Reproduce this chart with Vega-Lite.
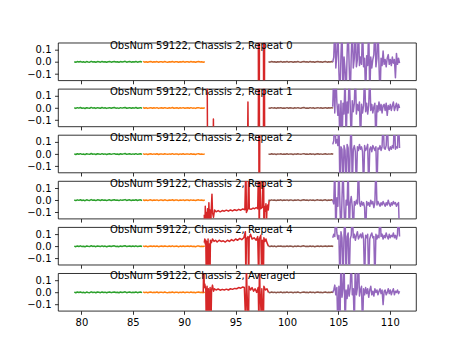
{
"$schema": "https://vega.github.io/schema/vega-lite/v6.json",
"background": "white",
"padding": {"left": 26, "top": 39.7, "right": 0, "bottom": 0},
"spacing": 1.1,
"datasets": {
"g": [{"x":79.3,"y":0.002},{"x":79.45,"y":-0.003},{"x":79.6,"y":0.003},{"x":79.75,"y":-0.001},{"x":79.9,"y":0.004},{"x":80.05,"y":-0.002},{"x":80.2,"y":0.001},{"x":80.35,"y":-0.004},{"x":80.5,"y":0.003},{"x":80.65,"y":0.0},{"x":80.8,"y":-0.002},{"x":80.95,"y":0.005},{"x":81.1,"y":-0.001},{"x":81.25,"y":0.002},{"x":81.4,"y":-0.003},{"x":81.55,"y":0.003},{"x":81.7,"y":0.001},{"x":81.85,"y":-0.002},{"x":82.0,"y":0.004},{"x":82.15,"y":-0.001},{"x":82.3,"y":0.002},{"x":82.45,"y":-0.003},{"x":82.6,"y":0.001},{"x":82.75,"y":0.003},{"x":82.9,"y":-0.002},{"x":83.05,"y":0.002},{"x":83.2,"y":0.004},{"x":83.35,"y":-0.001},{"x":83.5,"y":0.001},{"x":83.65,"y":-0.003},{"x":83.8,"y":0.003},{"x":83.95,"y":-0.001},{"x":84.1,"y":0.002},{"x":84.25,"y":0.005},{"x":84.4,"y":-0.002},{"x":84.55,"y":0.001},{"x":84.7,"y":0.003},{"x":84.85,"y":-0.002},{"x":85.0,"y":0.002},{"x":85.15,"y":-0.001},{"x":85.3,"y":0.004},{"x":85.45,"y":-0.002},{"x":85.6,"y":0.001},{"x":85.75,"y":0.003},{"x":85.9,"y":-0.002}],
"o": [{"x":86.0,"y":0.004},{"x":86.15,"y":-0.002},{"x":86.3,"y":0.002},{"x":86.45,"y":-0.003},{"x":86.6,"y":0.001},{"x":86.75,"y":0.003},{"x":86.9,"y":-0.002},{"x":87.05,"y":0.002},{"x":87.2,"y":-0.001},{"x":87.35,"y":0.003},{"x":87.5,"y":-0.003},{"x":87.65,"y":0.001},{"x":87.8,"y":0.002},{"x":87.95,"y":-0.002},{"x":88.1,"y":0.003},{"x":88.25,"y":0.0},{"x":88.4,"y":-0.002},{"x":88.55,"y":0.002},{"x":88.7,"y":-0.001},{"x":88.85,"y":0.004},{"x":89.0,"y":-0.002},{"x":89.15,"y":0.001},{"x":89.3,"y":0.002},{"x":89.45,"y":-0.003},{"x":89.6,"y":0.002},{"x":89.75,"y":-0.001},{"x":89.9,"y":0.003},{"x":90.05,"y":-0.002},{"x":90.2,"y":0.001},{"x":90.35,"y":0.002},{"x":90.5,"y":-0.002},{"x":90.65,"y":0.003},{"x":90.8,"y":-0.001},{"x":90.95,"y":0.001},{"x":91.1,"y":-0.003},{"x":91.25,"y":0.002},{"x":91.4,"y":0.003},{"x":91.55,"y":-0.001},{"x":91.7,"y":0.001},{"x":91.85,"y":-0.002},{"x":92.0,"y":0.002}],
"b": [{"x":98.2,"y":0.001},{"x":98.35,"y":-0.002},{"x":98.5,"y":0.003},{"x":98.65,"y":-0.001},{"x":98.8,"y":0.002},{"x":98.95,"y":-0.003},{"x":99.1,"y":0.002},{"x":99.25,"y":0.0},{"x":99.4,"y":0.003},{"x":99.55,"y":-0.002},{"x":99.7,"y":0.001},{"x":99.85,"y":-0.001},{"x":100.0,"y":0.003},{"x":100.15,"y":-0.002},{"x":100.3,"y":0.002},{"x":100.45,"y":0.001},{"x":100.6,"y":-0.003},{"x":100.75,"y":0.002},{"x":100.9,"y":-0.001},{"x":101.05,"y":0.003},{"x":101.2,"y":0.0},{"x":101.35,"y":-0.002},{"x":101.5,"y":0.002},{"x":101.65,"y":0.004},{"x":101.8,"y":-0.001},{"x":101.95,"y":0.001},{"x":102.1,"y":-0.002},{"x":102.25,"y":0.003},{"x":102.4,"y":-0.001},{"x":102.55,"y":0.002},{"x":102.7,"y":-0.003},{"x":102.85,"y":0.001},{"x":103.0,"y":0.003},{"x":103.15,"y":-0.001},{"x":103.3,"y":0.002},{"x":103.45,"y":-0.002},{"x":103.6,"y":0.001},{"x":103.75,"y":0.003},{"x":103.9,"y":-0.002},{"x":104.05,"y":0.002},{"x":104.2,"y":0.0},{"x":104.35,"y":0.003},{"x":104.5,"y":-0.001}],
"r0": [{"x":97.2,"y":0.5},{"x":97.23,"y":-0.5},{"x":97.3,"y":-0.5},{"x":97.33,"y":0.5},{"x":97.7,"y":0.5},{"x":97.73,"y":-0.5},{"x":97.8,"y":-0.5},{"x":97.83,"y":0.5}],
"r1": [{"x":92.22,"y":0.5},{"x":92.28,"y":-0.5},{"x":92.8,"y":-0.5},{"x":92.84,"y":-0.09},{"x":92.88,"y":-0.5},{"x":96.15,"y":-0.5},{"x":96.2,"y":0.05},{"x":96.25,"y":-0.5},{"x":97.2,"y":-0.5},{"x":97.23,"y":0.5},{"x":97.3,"y":0.5},{"x":97.33,"y":-0.5},{"x":97.7,"y":-0.5},{"x":97.73,"y":0.5},{"x":97.8,"y":0.5},{"x":97.83,"y":-0.5}],
"r2": [{"x":97.25,"y":0.5},{"x":97.28,"y":-0.5},{"x":97.33,"y":-0.5},{"x":97.36,"y":0.5}],
"r3": [{"x":91.95,"y":-0.12},{"x":92.0,"y":-0.3},{"x":92.05,"y":-0.05},{"x":92.1,"y":-0.3},{"x":92.15,"y":-0.1},{"x":92.2,"y":-0.25},{"x":92.27,"y":-0.07},{"x":92.33,"y":-0.3},{"x":92.4,"y":-0.02},{"x":92.45,"y":-0.2},{"x":92.5,"y":-0.08},{"x":92.57,"y":-0.3},{"x":92.62,"y":-0.09},{"x":92.7,"y":0.05},{"x":92.75,"y":-0.1},{"x":92.85,"y":-0.14},{"x":92.95,"y":-0.08},{"x":93.1,"y":-0.095},{"x":93.3,"y":-0.085},{"x":93.5,"y":-0.095},{"x":93.7,"y":-0.085},{"x":93.9,"y":-0.09},{"x":94.1,"y":-0.082},{"x":94.3,"y":-0.09},{"x":94.5,"y":-0.08},{"x":94.7,"y":-0.088},{"x":94.9,"y":-0.078},{"x":95.1,"y":-0.085},{"x":95.3,"y":-0.075},{"x":95.5,"y":-0.082},{"x":95.7,"y":-0.072},{"x":95.9,"y":-0.078},{"x":96.0,"y":0.3},{"x":96.05,"y":-0.1},{"x":96.2,"y":-0.07},{"x":96.28,"y":0.3},{"x":96.33,"y":-0.07},{"x":96.5,"y":-0.075},{"x":96.7,"y":-0.065},{"x":96.85,"y":-0.07},{"x":97.0,"y":-0.06},{"x":97.15,"y":-0.07},{"x":97.25,"y":0.4},{"x":97.3,"y":-0.4},{"x":97.35,"y":0.3},{"x":97.45,"y":-0.07},{"x":97.6,"y":-0.06},{"x":97.72,"y":0.4},{"x":97.76,"y":-0.4},{"x":97.8,"y":-0.05},{"x":97.9,"y":-0.09},{"x":97.95,"y":-0.03},{"x":98.0,"y":-0.2},{"x":98.05,"y":-0.07},{"x":98.12,"y":-0.04},{"x":98.18,"y":-0.08},{"x":98.25,"y":-0.01},{"x":98.3,"y":0.0}],
"r4": [{"x":91.95,"y":0.03},{"x":92.0,"y":0.06},{"x":92.05,"y":0.02},{"x":92.1,"y":0.05},{"x":92.15,"y":-0.3},{"x":92.2,"y":0.04},{"x":92.27,"y":-0.3},{"x":92.32,"y":0.06},{"x":92.38,"y":-0.25},{"x":92.45,"y":0.02},{"x":92.5,"y":-0.3},{"x":92.55,"y":0.05},{"x":92.65,"y":0.03},{"x":92.75,"y":0.06},{"x":92.9,"y":0.04},{"x":93.05,"y":0.05},{"x":93.2,"y":0.035},{"x":93.4,"y":0.05},{"x":93.6,"y":0.04},{"x":93.8,"y":0.045},{"x":94.0,"y":0.035},{"x":94.2,"y":0.05},{"x":94.4,"y":0.04},{"x":94.6,"y":0.055},{"x":94.8,"y":0.045},{"x":95.0,"y":0.06},{"x":95.2,"y":0.05},{"x":95.4,"y":0.065},{"x":95.6,"y":0.055},{"x":95.8,"y":0.07},{"x":95.95,"y":0.12},{"x":96.0,"y":-0.3},{"x":96.05,"y":0.06},{"x":96.2,"y":0.08},{"x":96.27,"y":-0.3},{"x":96.32,"y":0.07},{"x":96.45,"y":0.1},{"x":96.6,"y":0.06},{"x":96.8,"y":0.07},{"x":97.0,"y":0.05},{"x":97.15,"y":0.08},{"x":97.25,"y":-0.3},{"x":97.3,"y":0.06},{"x":97.45,"y":0.09},{"x":97.55,"y":-0.3},{"x":97.6,"y":0.05},{"x":97.7,"y":-0.3},{"x":97.75,"y":0.07},{"x":97.85,"y":0.04},{"x":97.95,"y":0.06},{"x":98.05,"y":0.03},{"x":98.15,"y":0.01},{"x":98.2,"y":0.0}],
"r5": [{"x":91.85,"y":0.0},{"x":91.9,"y":0.3},{"x":91.95,"y":0.04},{"x":92.0,"y":0.07},{"x":92.1,"y":0.02},{"x":92.15,"y":-0.3},{"x":92.22,"y":0.05},{"x":92.3,"y":-0.3},{"x":92.36,"y":0.03},{"x":92.45,"y":-0.25},{"x":92.52,"y":0.04},{"x":92.6,"y":-0.3},{"x":92.66,"y":0.02},{"x":92.75,"y":0.06},{"x":92.85,"y":0.01},{"x":92.95,"y":0.03},{"x":93.1,"y":0.02},{"x":93.3,"y":0.028},{"x":93.5,"y":0.018},{"x":93.7,"y":0.025},{"x":93.9,"y":0.02},{"x":94.1,"y":0.027},{"x":94.3,"y":0.02},{"x":94.5,"y":0.03},{"x":94.7,"y":0.025},{"x":94.9,"y":0.033},{"x":95.1,"y":0.03},{"x":95.3,"y":0.04},{"x":95.5,"y":0.035},{"x":95.7,"y":0.045},{"x":95.85,"y":0.04},{"x":96.0,"y":-0.3},{"x":96.05,"y":0.3},{"x":96.1,"y":0.03},{"x":96.25,"y":-0.3},{"x":96.3,"y":0.05},{"x":96.45,"y":0.02},{"x":96.6,"y":0.04},{"x":96.75,"y":0.01},{"x":96.9,"y":0.03},{"x":97.05,"y":0.0},{"x":97.2,"y":0.04},{"x":97.27,"y":-0.3},{"x":97.32,"y":0.3},{"x":97.37,"y":0.02},{"x":97.5,"y":-0.2},{"x":97.55,"y":0.03},{"x":97.7,"y":-0.3},{"x":97.75,"y":0.05},{"x":97.9,"y":0.02},{"x":98.05,"y":0.03},{"x":98.2,"y":0.0}],
"p0": [{"x":104.45,"y":0.0},{"x":104.55,"y":0.04},{"x":104.65,"y":0.3},{"x":104.75,"y":-0.05},{"x":104.85,"y":0.06},{"x":104.95,"y":0.3},{"x":105.05,"y":-0.08},{"x":105.15,"y":-0.3},{"x":105.25,"y":0.05},{"x":105.35,"y":0.3},{"x":105.45,"y":-0.3},{"x":105.55,"y":0.04},{"x":105.65,"y":-0.06},{"x":105.75,"y":-0.3},{"x":105.85,"y":0.07},{"x":105.95,"y":0.3},{"x":106.05,"y":-0.04},{"x":106.15,"y":-0.3},{"x":106.25,"y":0.05},{"x":106.35,"y":0.3},{"x":106.45,"y":-0.05},{"x":106.55,"y":0.03},{"x":106.65,"y":0.3},{"x":106.75,"y":-0.04},{"x":106.85,"y":0.02},{"x":106.95,"y":0.3},{"x":107.05,"y":-0.03},{"x":107.15,"y":0.04},{"x":107.25,"y":-0.02},{"x":107.35,"y":0.3},{"x":107.45,"y":-0.04},{"x":107.55,"y":0.03},{"x":107.65,"y":-0.3},{"x":107.75,"y":0.05},{"x":107.85,"y":-0.03},{"x":107.95,"y":0.3},{"x":108.05,"y":-0.3},{"x":108.15,"y":0.04},{"x":108.25,"y":-0.05},{"x":108.35,"y":0.02},{"x":108.45,"y":0.06},{"x":108.55,"y":0.3},{"x":108.65,"y":-0.04},{"x":108.75,"y":0.03},{"x":108.85,"y":0.3},{"x":108.95,"y":-0.02},{"x":109.05,"y":-0.3},{"x":109.15,"y":0.03},{"x":109.25,"y":-0.03},{"x":109.35,"y":0.09},{"x":109.45,"y":-0.02},{"x":109.55,"y":0.02},{"x":109.65,"y":-0.04},{"x":109.75,"y":0.03},{"x":109.85,"y":0.06},{"x":109.95,"y":-0.02},{"x":110.05,"y":0.02},{"x":110.15,"y":-0.03},{"x":110.25,"y":0.04},{"x":110.35,"y":-0.01},{"x":110.45,"y":0.02},{"x":110.55,"y":-0.13},{"x":110.65,"y":0.07},{"x":110.75,"y":-0.02},{"x":110.85,"y":0.03},{"x":110.95,"y":-0.01}],
"p1": [{"x":104.45,"y":0.01},{"x":104.55,"y":0.3},{"x":104.65,"y":-0.04},{"x":104.75,"y":0.3},{"x":104.85,"y":0.05},{"x":104.95,"y":-0.06},{"x":105.05,"y":0.03},{"x":105.15,"y":-0.3},{"x":105.25,"y":0.06},{"x":105.35,"y":-0.3},{"x":105.45,"y":0.04},{"x":105.55,"y":-0.05},{"x":105.65,"y":0.3},{"x":105.75,"y":-0.3},{"x":105.85,"y":0.05},{"x":105.95,"y":-0.04},{"x":106.05,"y":0.3},{"x":106.15,"y":0.02},{"x":106.25,"y":-0.3},{"x":106.35,"y":0.06},{"x":106.45,"y":-0.03},{"x":106.55,"y":0.04},{"x":106.65,"y":0.3},{"x":106.75,"y":-0.05},{"x":106.85,"y":0.03},{"x":106.95,"y":-0.02},{"x":107.05,"y":0.05},{"x":107.15,"y":-0.3},{"x":107.25,"y":0.03},{"x":107.35,"y":-0.04},{"x":107.45,"y":0.02},{"x":107.55,"y":0.3},{"x":107.65,"y":-0.03},{"x":107.75,"y":0.04},{"x":107.85,"y":-0.05},{"x":107.95,"y":0.02},{"x":108.05,"y":0.3},{"x":108.15,"y":-0.02},{"x":108.25,"y":0.03},{"x":108.35,"y":-0.04},{"x":108.45,"y":0.01},{"x":108.55,"y":0.04},{"x":108.65,"y":-0.3},{"x":108.75,"y":0.02},{"x":108.85,"y":-0.03},{"x":108.95,"y":0.05},{"x":109.05,"y":-0.02},{"x":109.15,"y":0.03},{"x":109.25,"y":-0.04},{"x":109.35,"y":0.02},{"x":109.45,"y":0.03},{"x":109.55,"y":-0.02},{"x":109.65,"y":0.04},{"x":109.75,"y":-0.06},{"x":109.85,"y":0.02},{"x":109.95,"y":-0.01},{"x":110.05,"y":0.03},{"x":110.15,"y":-0.02},{"x":110.25,"y":0.02},{"x":110.35,"y":0.05},{"x":110.45,"y":-0.02},{"x":110.55,"y":0.01},{"x":110.65,"y":0.04},{"x":110.75,"y":-0.02},{"x":110.85,"y":0.03},{"x":110.95,"y":0.0}],
"p2": [{"x":104.45,"y":0.08},{"x":104.55,"y":0.11},{"x":104.65,"y":0.3},{"x":104.75,"y":0.09},{"x":104.85,"y":0.12},{"x":104.95,"y":0.07},{"x":105.05,"y":0.3},{"x":105.15,"y":-0.3},{"x":105.25,"y":0.06},{"x":105.35,"y":0.04},{"x":105.45,"y":-0.3},{"x":105.55,"y":0.07},{"x":105.65,"y":0.03},{"x":105.75,"y":-0.3},{"x":105.85,"y":0.08},{"x":105.95,"y":0.05},{"x":106.05,"y":-0.3},{"x":106.15,"y":0.06},{"x":106.25,"y":0.3},{"x":106.35,"y":-0.3},{"x":106.45,"y":0.04},{"x":106.55,"y":0.07},{"x":106.65,"y":0.02},{"x":106.75,"y":-0.3},{"x":106.85,"y":0.06},{"x":106.95,"y":0.03},{"x":107.05,"y":0.08},{"x":107.15,"y":0.04},{"x":107.25,"y":0.06},{"x":107.35,"y":0.02},{"x":107.45,"y":-0.3},{"x":107.55,"y":0.07},{"x":107.65,"y":0.03},{"x":107.75,"y":0.05},{"x":107.85,"y":0.08},{"x":107.95,"y":-0.3},{"x":108.05,"y":0.04},{"x":108.15,"y":0.06},{"x":108.25,"y":0.02},{"x":108.35,"y":0.07},{"x":108.45,"y":0.05},{"x":108.55,"y":0.03},{"x":108.65,"y":0.06},{"x":108.75,"y":-0.3},{"x":108.85,"y":0.05},{"x":108.95,"y":0.04},{"x":109.05,"y":0.07},{"x":109.15,"y":0.03},{"x":109.25,"y":0.06},{"x":109.35,"y":0.3},{"x":109.45,"y":0.05},{"x":109.55,"y":0.04},{"x":109.65,"y":0.07},{"x":109.75,"y":0.3},{"x":109.85,"y":0.05},{"x":109.95,"y":0.03},{"x":110.05,"y":0.06},{"x":110.15,"y":0.04},{"x":110.25,"y":0.07},{"x":110.35,"y":0.05},{"x":110.45,"y":0.3},{"x":110.55,"y":0.04},{"x":110.65,"y":0.06},{"x":110.75,"y":0.05},{"x":110.85,"y":0.3},{"x":110.95,"y":0.05}],
"p3": [{"x":104.45,"y":0.0},{"x":104.55,"y":-0.03},{"x":104.65,"y":0.3},{"x":104.75,"y":-0.3},{"x":104.85,"y":0.02},{"x":104.95,"y":-0.05},{"x":105.05,"y":0.3},{"x":105.15,"y":-0.04},{"x":105.25,"y":-0.3},{"x":105.35,"y":0.01},{"x":105.45,"y":0.3},{"x":105.55,"y":-0.06},{"x":105.65,"y":-0.3},{"x":105.75,"y":0.0},{"x":105.85,"y":-0.04},{"x":105.95,"y":0.3},{"x":106.05,"y":-0.3},{"x":106.15,"y":-0.02},{"x":106.25,"y":0.03},{"x":106.35,"y":-0.05},{"x":106.45,"y":-0.3},{"x":106.55,"y":-0.01},{"x":106.65,"y":-0.04},{"x":106.75,"y":0.0},{"x":106.85,"y":-0.03},{"x":106.95,"y":0.3},{"x":107.05,"y":-0.02},{"x":107.15,"y":-0.05},{"x":107.25,"y":-0.01},{"x":107.35,"y":-0.04},{"x":107.45,"y":-0.02},{"x":107.55,"y":-0.06},{"x":107.65,"y":-0.3},{"x":107.75,"y":-0.01},{"x":107.85,"y":-0.04},{"x":107.95,"y":-0.02},{"x":108.05,"y":-0.05},{"x":108.15,"y":0.0},{"x":108.25,"y":-0.03},{"x":108.35,"y":-0.01},{"x":108.45,"y":-0.06},{"x":108.55,"y":-0.02},{"x":108.65,"y":0.3},{"x":108.75,"y":-0.04},{"x":108.85,"y":-0.01},{"x":108.95,"y":-0.03},{"x":109.05,"y":-0.05},{"x":109.15,"y":-0.02},{"x":109.25,"y":-0.04},{"x":109.35,"y":-0.01},{"x":109.45,"y":-0.03},{"x":109.55,"y":-0.05},{"x":109.65,"y":-0.02},{"x":109.75,"y":-0.04},{"x":109.85,"y":0.0},{"x":109.95,"y":-0.03},{"x":110.05,"y":-0.05},{"x":110.15,"y":-0.02},{"x":110.25,"y":-0.04},{"x":110.35,"y":-0.01},{"x":110.45,"y":-0.03},{"x":110.55,"y":-0.02},{"x":110.65,"y":-0.05},{"x":110.75,"y":-0.03},{"x":110.85,"y":-0.02},{"x":110.95,"y":-0.3}],
"p4": [{"x":104.45,"y":0.07},{"x":104.55,"y":0.1},{"x":104.65,"y":0.08},{"x":104.75,"y":0.3},{"x":104.85,"y":0.11},{"x":104.95,"y":0.06},{"x":105.05,"y":0.09},{"x":105.15,"y":-0.3},{"x":105.25,"y":0.12},{"x":105.35,"y":0.07},{"x":105.45,"y":-0.3},{"x":105.55,"y":0.1},{"x":105.65,"y":0.3},{"x":105.75,"y":-0.3},{"x":105.85,"y":0.08},{"x":105.95,"y":0.11},{"x":106.05,"y":-0.3},{"x":106.15,"y":0.06},{"x":106.25,"y":0.09},{"x":106.35,"y":0.3},{"x":106.45,"y":0.07},{"x":106.55,"y":0.1},{"x":106.65,"y":0.05},{"x":106.75,"y":0.09},{"x":106.85,"y":0.12},{"x":106.95,"y":0.06},{"x":107.05,"y":0.08},{"x":107.15,"y":0.1},{"x":107.25,"y":0.07},{"x":107.35,"y":0.11},{"x":107.45,"y":0.06},{"x":107.55,"y":-0.3},{"x":107.65,"y":0.09},{"x":107.75,"y":0.07},{"x":107.85,"y":0.1},{"x":107.95,"y":-0.3},{"x":108.05,"y":0.06},{"x":108.15,"y":0.09},{"x":108.25,"y":0.11},{"x":108.35,"y":0.07},{"x":108.45,"y":0.08},{"x":108.55,"y":-0.3},{"x":108.65,"y":0.1},{"x":108.75,"y":0.06},{"x":108.85,"y":0.09},{"x":108.95,"y":0.07},{"x":109.05,"y":0.3},{"x":109.15,"y":0.08},{"x":109.25,"y":0.1},{"x":109.35,"y":0.06},{"x":109.45,"y":0.09},{"x":109.55,"y":0.07},{"x":109.65,"y":0.11},{"x":109.75,"y":0.08},{"x":109.85,"y":0.06},{"x":109.95,"y":0.1},{"x":110.05,"y":0.07},{"x":110.15,"y":0.09},{"x":110.25,"y":0.08},{"x":110.35,"y":0.11},{"x":110.45,"y":0.07},{"x":110.55,"y":0.09},{"x":110.65,"y":0.06},{"x":110.75,"y":0.1},{"x":110.85,"y":0.3},{"x":110.95,"y":0.08}],
"p5": [{"x":104.45,"y":0.0},{"x":104.55,"y":0.02},{"x":104.65,"y":0.06},{"x":104.75,"y":-0.02},{"x":104.85,"y":0.04},{"x":104.95,"y":-0.3},{"x":105.05,"y":0.05},{"x":105.15,"y":-0.3},{"x":105.25,"y":0.3},{"x":105.35,"y":-0.04},{"x":105.45,"y":0.03},{"x":105.55,"y":0.3},{"x":105.65,"y":-0.3},{"x":105.75,"y":0.02},{"x":105.85,"y":-0.05},{"x":105.95,"y":0.06},{"x":106.05,"y":-0.03},{"x":106.15,"y":0.04},{"x":106.25,"y":0.3},{"x":106.35,"y":-0.02},{"x":106.45,"y":0.03},{"x":106.55,"y":-0.3},{"x":106.65,"y":0.3},{"x":106.75,"y":-0.02},{"x":106.85,"y":0.04},{"x":106.95,"y":0.3},{"x":107.05,"y":-0.03},{"x":107.15,"y":0.02},{"x":107.25,"y":0.05},{"x":107.35,"y":-0.3},{"x":107.45,"y":0.03},{"x":107.55,"y":-0.02},{"x":107.65,"y":0.04},{"x":107.75,"y":-0.01},{"x":107.85,"y":0.03},{"x":107.95,"y":-0.04},{"x":108.05,"y":0.02},{"x":108.15,"y":0.05},{"x":108.25,"y":-0.02},{"x":108.35,"y":0.01},{"x":108.45,"y":-0.03},{"x":108.55,"y":0.03},{"x":108.65,"y":0.0},{"x":108.75,"y":0.02},{"x":108.85,"y":-0.02},{"x":108.95,"y":0.01},{"x":109.05,"y":0.03},{"x":109.15,"y":-0.01},{"x":109.25,"y":0.02},{"x":109.35,"y":-0.1},{"x":109.45,"y":0.01},{"x":109.55,"y":0.02},{"x":109.65,"y":-0.02},{"x":109.75,"y":0.0},{"x":109.85,"y":0.03},{"x":109.95,"y":-0.01},{"x":110.05,"y":0.02},{"x":110.15,"y":-0.02},{"x":110.25,"y":0.01},{"x":110.35,"y":0.03},{"x":110.45,"y":-0.02},{"x":110.55,"y":0.01},{"x":110.65,"y":0.0},{"x":110.75,"y":0.02},{"x":110.85,"y":-0.01},{"x":110.95,"y":0.01}]
},
"vconcat": [
{"width": 358, "height": 37.6, "title": "ObsNum 59122, Chassis 2, Repeat 0",
 "encoding": {"x": {"field": "x", "type": "quantitative", "scale": {"domain": [77.72, 112.55], "nice": false, "zero": false}, "axis": {"values": [80,85,90,95,100,105,110], "labels": false, "title": null, "grid": false, "domain": false}},
  "y": {"field": "y", "type": "quantitative", "scale": {"domain": [-0.151, 0.158], "nice": false, "zero": false}, "axis": {"values": [-0.1,0,0.1], "format": ".1f", "title": null, "grid": false, "domain": false}}},
 "layer": [
  {"data": {"name": "g"}, "mark": {"type": "line", "color": "#2ca02c", "clip": true}},
  {"data": {"name": "o"}, "mark": {"type": "line", "color": "#ff7f0e", "clip": true}},
  {"data": {"name": "r0"}, "mark": {"type": "line", "color": "#d62728", "clip": true}},
  {"data": {"name": "b"}, "mark": {"type": "line", "color": "#8c564b", "clip": true}},
  {"data": {"name": "p0"}, "mark": {"type": "line", "color": "#9467bd", "clip": true}}
 ]},
{"width": 358, "height": 37.6, "title": "ObsNum 59122, Chassis 2, Repeat 1",
 "encoding": {"x": {"field": "x", "type": "quantitative", "scale": {"domain": [77.72, 112.55], "nice": false, "zero": false}, "axis": {"values": [80,85,90,95,100,105,110], "labels": false, "title": null, "grid": false, "domain": false}},
  "y": {"field": "y", "type": "quantitative", "scale": {"domain": [-0.151, 0.158], "nice": false, "zero": false}, "axis": {"values": [-0.1,0,0.1], "format": ".1f", "title": null, "grid": false, "domain": false}}},
 "layer": [
  {"data": {"name": "g"}, "mark": {"type": "line", "color": "#2ca02c", "clip": true}},
  {"data": {"name": "o"}, "mark": {"type": "line", "color": "#ff7f0e", "clip": true}},
  {"data": {"name": "r1"}, "mark": {"type": "line", "color": "#d62728", "clip": true}},
  {"data": {"name": "b"}, "mark": {"type": "line", "color": "#8c564b", "clip": true}},
  {"data": {"name": "p1"}, "mark": {"type": "line", "color": "#9467bd", "clip": true}}
 ]},
{"width": 358, "height": 37.6, "title": "ObsNum 59122, Chassis 2, Repeat 2",
 "encoding": {"x": {"field": "x", "type": "quantitative", "scale": {"domain": [77.72, 112.55], "nice": false, "zero": false}, "axis": {"values": [80,85,90,95,100,105,110], "labels": false, "title": null, "grid": false, "domain": false}},
  "y": {"field": "y", "type": "quantitative", "scale": {"domain": [-0.151, 0.158], "nice": false, "zero": false}, "axis": {"values": [-0.1,0,0.1], "format": ".1f", "title": null, "grid": false, "domain": false}}},
 "layer": [
  {"data": {"name": "g"}, "mark": {"type": "line", "color": "#2ca02c", "clip": true}},
  {"data": {"name": "o"}, "mark": {"type": "line", "color": "#ff7f0e", "clip": true}},
  {"data": {"name": "r2"}, "mark": {"type": "line", "color": "#d62728", "clip": true}},
  {"data": {"name": "b"}, "mark": {"type": "line", "color": "#8c564b", "clip": true}},
  {"data": {"name": "p2"}, "mark": {"type": "line", "color": "#9467bd", "clip": true}}
 ]},
{"width": 358, "height": 37.6, "title": "ObsNum 59122, Chassis 2, Repeat 3",
 "encoding": {"x": {"field": "x", "type": "quantitative", "scale": {"domain": [77.72, 112.55], "nice": false, "zero": false}, "axis": {"values": [80,85,90,95,100,105,110], "labels": false, "title": null, "grid": false, "domain": false}},
  "y": {"field": "y", "type": "quantitative", "scale": {"domain": [-0.151, 0.158], "nice": false, "zero": false}, "axis": {"values": [-0.1,0,0.1], "format": ".1f", "title": null, "grid": false, "domain": false}}},
 "layer": [
  {"data": {"name": "g"}, "mark": {"type": "line", "color": "#2ca02c", "clip": true}},
  {"data": {"name": "o"}, "mark": {"type": "line", "color": "#ff7f0e", "clip": true}},
  {"data": {"name": "r3"}, "mark": {"type": "line", "color": "#d62728", "clip": true}},
  {"data": {"name": "b"}, "mark": {"type": "line", "color": "#8c564b", "clip": true}},
  {"data": {"name": "p3"}, "mark": {"type": "line", "color": "#9467bd", "clip": true}}
 ]},
{"width": 358, "height": 37.6, "title": "ObsNum 59122, Chassis 2, Repeat 4",
 "encoding": {"x": {"field": "x", "type": "quantitative", "scale": {"domain": [77.72, 112.55], "nice": false, "zero": false}, "axis": {"values": [80,85,90,95,100,105,110], "labels": false, "title": null, "grid": false, "domain": false}},
  "y": {"field": "y", "type": "quantitative", "scale": {"domain": [-0.151, 0.158], "nice": false, "zero": false}, "axis": {"values": [-0.1,0,0.1], "format": ".1f", "title": null, "grid": false, "domain": false}}},
 "layer": [
  {"data": {"name": "g"}, "mark": {"type": "line", "color": "#2ca02c", "clip": true}},
  {"data": {"name": "o"}, "mark": {"type": "line", "color": "#ff7f0e", "clip": true}},
  {"data": {"name": "r4"}, "mark": {"type": "line", "color": "#d62728", "clip": true}},
  {"data": {"name": "b"}, "mark": {"type": "line", "color": "#8c564b", "clip": true}},
  {"data": {"name": "p4"}, "mark": {"type": "line", "color": "#9467bd", "clip": true}}
 ]},
{"width": 358, "height": 37.6, "title": "ObsNum 59122, Chassis 2, Averaged",
 "encoding": {"x": {"field": "x", "type": "quantitative", "scale": {"domain": [77.72, 112.55], "nice": false, "zero": false}, "axis": {"values": [80,85,90,95,100,105,110], "labels": true, "title": null, "grid": false, "domain": false}},
  "y": {"field": "y", "type": "quantitative", "scale": {"domain": [-0.151, 0.158], "nice": false, "zero": false}, "axis": {"values": [-0.1,0,0.1], "format": ".1f", "title": null, "grid": false, "domain": false}}},
 "layer": [
  {"data": {"name": "g"}, "mark": {"type": "line", "color": "#2ca02c", "clip": true}},
  {"data": {"name": "o"}, "mark": {"type": "line", "color": "#ff7f0e", "clip": true}},
  {"data": {"name": "r5"}, "mark": {"type": "line", "color": "#d62728", "clip": true}},
  {"data": {"name": "b"}, "mark": {"type": "line", "color": "#8c564b", "clip": true}},
  {"data": {"name": "p5"}, "mark": {"type": "line", "color": "#9467bd", "clip": true}}
 ]}
],
"config": {
 "font": "DejaVu Sans",
 "view": {"stroke": "#000000", "strokeWidth": 0.8},
 "axis": {"labelFont": "DejaVu Sans", "labelFontSize": 10, "labelColor": "#000000", "tickColor": "#000000", "tickSize": 3.5, "tickWidth": 0.8, "labelPadding": 3.5, "labelOverlap": false, "labelFlush": false},
 "title": {"font": "DejaVu Sans", "fontSize": 10, "fontWeight": "normal", "color": "#000000", "anchor": "start", "frame": "group", "offset": -8, "baseline": "alphabetic", "dx": 52},
 "line": {"strokeWidth": 1.5, "strokeJoin": "round"}
}
}
